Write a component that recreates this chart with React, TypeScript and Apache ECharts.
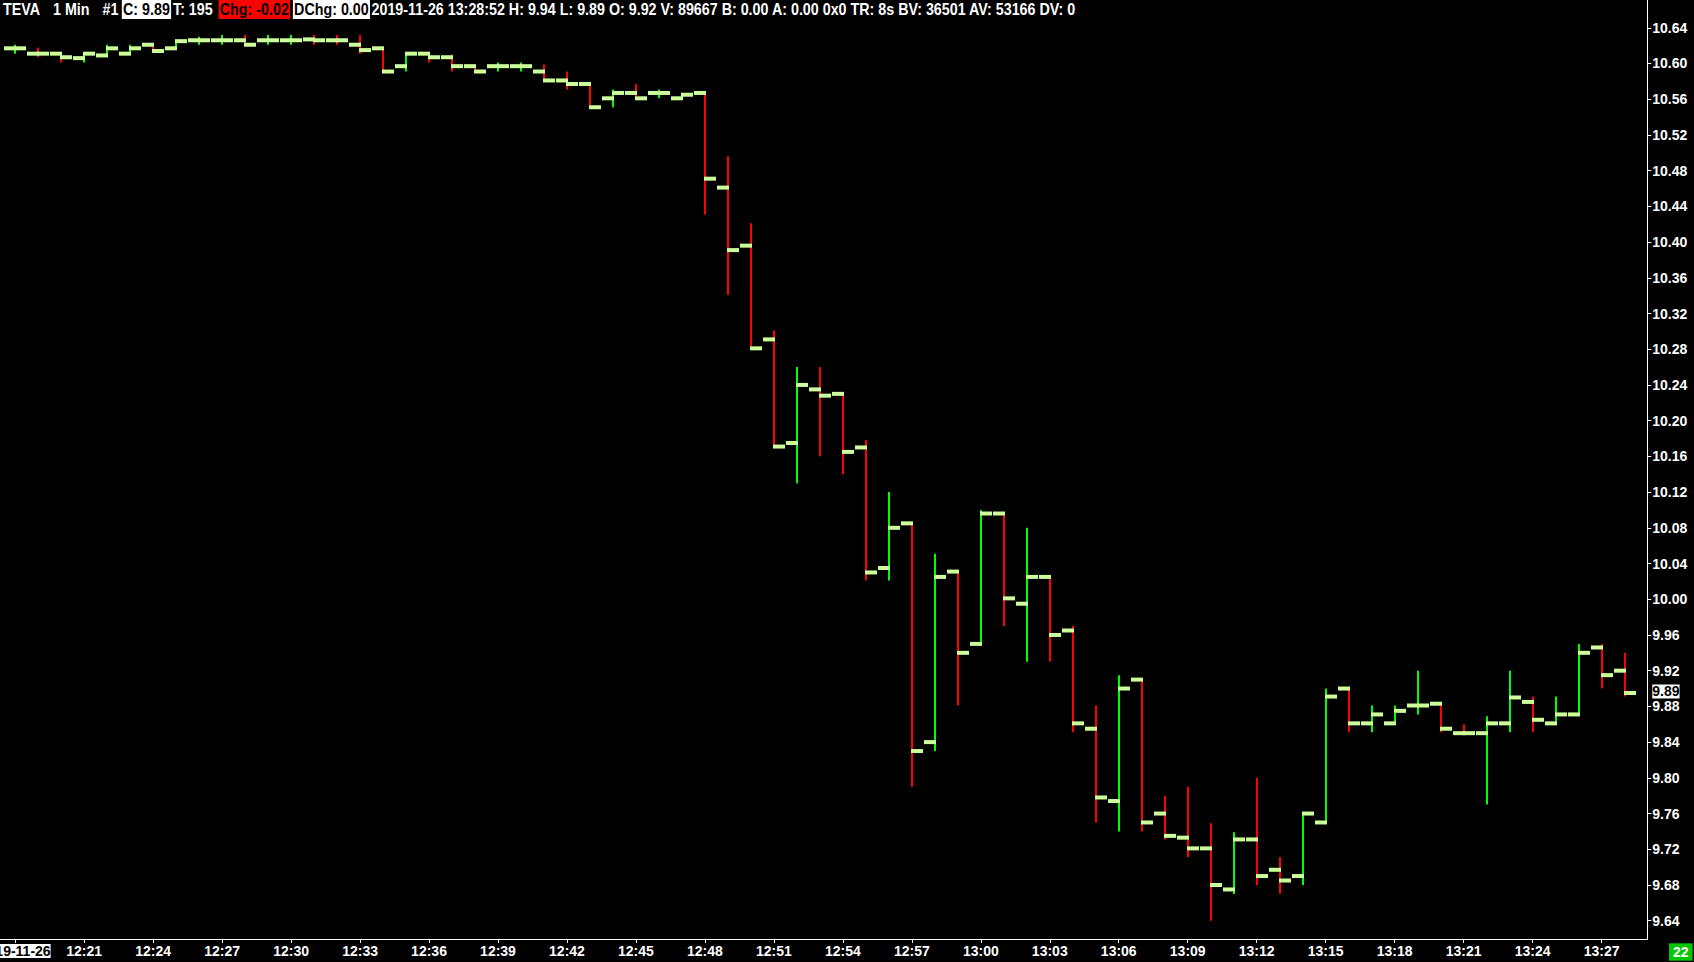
import React, { useEffect, useRef } from 'react';
import * as echarts from 'echarts';

// ---- data (TEVA, 1 Min bars, 2019-11-26) ----
const dateLabel = '2019-11-26';

const times = [
  '12:18', '12:19', '12:20', '12:21', '12:22', '12:23', '12:24', '12:25', '12:26', '12:27',
  '12:28', '12:29', '12:30', '12:31', '12:32', '12:33', '12:34', '12:35', '12:36', '12:37',
  '12:38', '12:39', '12:40', '12:41', '12:42', '12:43', '12:44', '12:45', '12:46', '12:47',
  '12:48', '12:49', '12:50', '12:51', '12:52', '12:53', '12:54', '12:55', '12:56', '12:57',
  '12:58', '12:59', '13:00', '13:01', '13:02', '13:03', '13:04', '13:05', '13:06', '13:07',
  '13:08', '13:09', '13:10', '13:11', '13:12', '13:13', '13:14', '13:15', '13:16', '13:17',
  '13:18', '13:19', '13:20', '13:21', '13:22', '13:23', '13:24', '13:25', '13:26', '13:27',
  '13:28',
];

const opens = [
  10.617, 10.611, 10.611, 10.606, 10.609, 10.611, 10.621, 10.617, 10.626, 10.626,
  10.626, 10.626, 10.626, 10.627, 10.626, 10.621, 10.617, 10.597, 10.611, 10.607,
  10.597, 10.597, 10.597, 10.591, 10.581, 10.577, 10.561, 10.567, 10.567, 10.561,
  10.567, 10.461, 10.396, 10.291, 10.175, 10.235, 10.230, 10.170, 10.035, 10.085,
  9.840, 10.031, 9.950, 10.096, 9.995, 10.025, 9.965, 9.855, 9.774, 9.910,
  9.760, 9.733, 9.721, 9.675, 9.731, 9.697, 9.690, 9.750, 9.900, 9.861,
  9.861, 9.881, 9.883, 9.850, 9.850, 9.861, 9.885, 9.861, 9.871, 9.946,
  9.920,
];

const highs = [
  10.621, 10.618, 10.612, 10.613, 10.621, 10.621, 10.622, 10.625, 10.630, 10.632,
  10.632, 10.632, 10.632, 10.632, 10.632, 10.632, 10.617, 10.611, 10.611, 10.610,
  10.597, 10.601, 10.601, 10.599, 10.591, 10.577, 10.571, 10.577, 10.571, 10.567,
  10.567, 10.496, 10.421, 10.301, 10.260, 10.260, 10.230, 10.178, 10.120, 10.086,
  10.051, 10.031, 10.100, 10.096, 10.080, 10.025, 9.970, 9.881, 9.915, 9.910,
  9.780, 9.790, 9.749, 9.739, 9.800, 9.711, 9.760, 9.900, 9.900, 9.881,
  9.881, 9.920, 9.883, 9.860, 9.869, 9.920, 9.891, 9.891, 9.950, 9.950,
  9.940,
];

const lows = [
  10.611, 10.607, 10.601, 10.601, 10.609, 10.611, 10.613, 10.617, 10.621, 10.621,
  10.621, 10.621, 10.621, 10.621, 10.621, 10.611, 10.591, 10.591, 10.601, 10.591,
  10.591, 10.591, 10.591, 10.581, 10.571, 10.551, 10.551, 10.561, 10.561, 10.561,
  10.431, 10.341, 10.281, 10.169, 10.130, 10.160, 10.140, 10.021, 10.021, 9.790,
  9.830, 9.881, 9.950, 9.970, 9.930, 9.930, 9.851, 9.750, 9.740, 9.740,
  9.731, 9.711, 9.640, 9.670, 9.680, 9.670, 9.680, 9.750, 9.851, 9.851,
  9.861, 9.871, 9.851, 9.850, 9.770, 9.851, 9.851, 9.861, 9.871, 9.900,
  9.891,
];

const closes = [
  10.617, 10.611, 10.607, 10.611, 10.617, 10.617, 10.614, 10.625, 10.626, 10.626,
  10.621, 10.626, 10.626, 10.626, 10.626, 10.615, 10.591, 10.611, 10.607, 10.597,
  10.591, 10.597, 10.597, 10.581, 10.577, 10.551, 10.567, 10.561, 10.567, 10.565,
  10.471, 10.391, 10.281, 10.171, 10.240, 10.228, 10.165, 10.030, 10.080, 9.830,
  10.025, 9.940, 10.096, 10.001, 10.025, 9.960, 9.861, 9.778, 9.900, 9.750,
  9.735, 9.721, 9.680, 9.731, 9.690, 9.685, 9.760, 9.891, 9.861, 9.871,
  9.875, 9.881, 9.855, 9.850, 9.861, 9.890, 9.865, 9.871, 9.940, 9.915,
  9.895,
];

// 1 = green (up) bar, 0 = red (down) bar, as coloured in the picture
const upFlags = [
  1, 0, 0, 1, 1, 1, 0, 1, 1, 1,
  0, 1, 1, 0, 0, 0, 0, 1, 0, 0,
  0, 1, 1, 0, 0, 0, 1, 0, 1, 1,
  0, 0, 0, 0, 1, 0, 0, 0, 1, 0,
  1, 0, 1, 0, 1, 0, 0, 0, 1, 0,
  0, 0, 0, 1, 0, 0, 1, 1, 0, 1,
  1, 1, 0, 0, 1, 1, 0, 1, 1, 0,
  0,
];

const xTickIdx = [0, 3, 6, 9, 12, 15, 18, 21, 24, 27, 30, 33, 36, 39, 42, 45, 48, 51, 54, 57, 60, 63, 66, 69];

const yTicks = [
  9.64, 9.68, 9.72, 9.76, 9.8, 9.84, 9.88, 9.92, 9.96, 10.0, 10.04, 10.08, 10.12,
  10.16, 10.2, 10.24, 10.28, 10.32, 10.36, 10.4, 10.44, 10.48, 10.52, 10.56, 10.6, 10.64,
];

// header texts
const headerPlain = [
  { x: 3, text: 'TEVA' },
  { x: 53, text: '1 Min' },
  { x: 102.5, text: '#1' },
  { x: 173, text: 'T: 195' },
  { x: 371.5, text: '2019-11-26 13:28:52 H: 9.94 L: 9.89 O: 9.92 V: 89667 B: 0.00 A: 0.00 0x0 TR: 8s BV: 36501 AV: 53166 DV: 0' },
];
const headerBoxes = [
  { x: 121.8, text: 'C: 9.89', bg: '#ffffff' },
  { x: 218.6, text: 'Chg: -0.02', bg: '#ff0000' },
  { x: 292.9, text: 'DChg: 0.00', bg: '#ffffff' },
];
const countdownText = '22';

// ---- styles ----
const FONT = '"Liberation Sans", Arial, Helvetica, sans-serif';
const GREEN = '#00ff00';
const RED = '#ff0000';
const TICK = '#ccff99';

export default function App() {
  const ref = useRef<HTMLDivElement>(null);

  useEffect(() => {
    document.body.style.margin = '0';
    document.body.style.background = '#000';
    const chart = echarts.init(ref.current as HTMLDivElement, null, { renderer: 'svg' });

    const data = times.map((t, i) => [i, opens[i], highs[i], lows[i], closes[i], upFlags[i]]);
    const lastIndex = data.length - 1;

    const renderItem = (params: any, api: any) => {
      const i = api.value(0);
      const o = api.value(1);
      const h = api.value(2);
      const l = api.value(3);
      const c = api.value(4);
      const up = api.value(5);
      const pO = api.coord([i, o]);
      const pH = api.coord([i, h]);
      const pL = api.coord([i, l]);
      const pC = api.coord([i, c]);
      const x = Math.round(pO[0]);
      const color = up ? GREEN : RED;
      const children: any[] = [
        {
          type: 'rect',
          shape: { x: x - 1, y: pH[1], width: 2, height: Math.max(1, pL[1] - pH[1]) },
          style: { fill: color },
        },
        {
          type: 'rect',
          shape: { x: x - 11, y: pO[1] - 2, width: 12, height: 4 },
          style: { fill: TICK },
        },
        {
          type: 'rect',
          shape: { x: x - 1, y: pC[1] - 2, width: 12, height: 4 },
          style: { fill: TICK },
        },
      ];
      if (params.dataIndex === lastIndex) {
        const cs = params.coordSys;
        children.push({
          type: 'text',
          x: cs.x + cs.width + 5,
          y: pC[1] - 1.5,
          style: {
            text: (Math.floor(c * 100) / 100).toFixed(2),
            fill: '#000',
            backgroundColor: '#fff',
            fontFamily: FONT,
            fontWeight: 'bold',
            fontSize: 14,
            lineHeight: 14,
            align: 'left',
            verticalAlign: 'middle',
            padding: [0, 0],
          },
        });
      }
      return { type: 'group', children };
    };

    const headerStyle = {
      fontFamily: FONT,
      fontWeight: 'bold',
      fontSize: 14.3,
      lineHeight: 16.5,
      verticalAlign: 'top',
      align: 'left',
    };

    const headerChildren: any[] = [
      ...headerPlain.map((h) => ({
        type: 'text',
        x: h.x,
        y: 0,
        style: { ...headerStyle, text: h.text, fill: '#fff' },
      })),
      ...headerBoxes.map((b) => ({
        type: 'text',
        x: b.x,
        y: 0,
        style: { ...headerStyle, text: b.text, fill: '#000', backgroundColor: b.bg, padding: [0, 1.2] },
      })),
    ];

    const option: any = {
      animation: false,
      backgroundColor: '#000',
      grid: { left: 0, right: 46.7, top: 0, bottom: 23, containLabel: false, outerBoundsMode: 'none' },
      xAxis: {
        type: 'value',
        min: -0.661,
        max: 70.99,
        axisLine: { show: true, onZero: false, lineStyle: { color: '#fff', width: 1 } },
        axisTick: { show: true, length: 4, lineStyle: { color: '#fff' }, customValues: xTickIdx },
        axisLabel: {
          show: true,
          customValues: xTickIdx,
          color: '#fff',
          fontFamily: FONT,
          fontWeight: 'bold',
          fontSize: 14,
          lineHeight: 16,
          margin: 4,
          formatter: (v: number) => {
            const i = Math.round(v);
            return i === 0 ? '{d|' + dateLabel + '}' : times[i];
          },
          rich: {
            d: {
              color: '#000',
              backgroundColor: '#fff',
              fontFamily: FONT,
              fontWeight: 'bold',
              fontSize: 14,
              lineHeight: 16,
            },
          },
        },
        splitLine: { show: false },
      },
      yAxis: {
        type: 'value',
        position: 'right',
        min: 9.6195,
        max: 10.6711,
        axisLine: { show: true, onZero: false, lineStyle: { color: '#fff', width: 1 } },
        axisTick: { show: true, length: 4, lineStyle: { color: '#fff' }, customValues: yTicks },
        axisLabel: {
          show: true,
          customValues: yTicks,
          color: '#fff',
          fontFamily: FONT,
          fontWeight: 'bold',
          fontSize: 14,
          margin: 5,
          formatter: (v: number) => Number(v).toFixed(2),
        },
        splitLine: { show: false },
      },
      series: [
        {
          type: 'custom',
          clip: false,
          z: 5,
          renderItem,
          data,
          encode: { x: 0, y: [1, 2, 3, 4] },
        },
      ],
      graphic: [
        {
          type: 'group',
          x: 0,
          y: 0,
          scaleY: 1.15,
          z: 100,
          children: headerChildren,
        },
        {
          type: 'text',
          x: 1669,
          y: 943.3,
          z: 100,
          style: {
            text: countdownText,
            fill: '#fff',
            backgroundColor: '#00c800',
            fontFamily: FONT,
            fontWeight: 'bold',
            fontSize: 14,
            lineHeight: 17.4,
            padding: [0, 4],
            verticalAlign: 'top',
            align: 'left',
          },
        },
      ],
    };

    chart.setOption(option);
    return () => chart.dispose();
  }, []);

  return <div ref={ref} style={{ position: 'fixed', left: 0, top: 0, width: 1694, height: 962 }} />;
}
